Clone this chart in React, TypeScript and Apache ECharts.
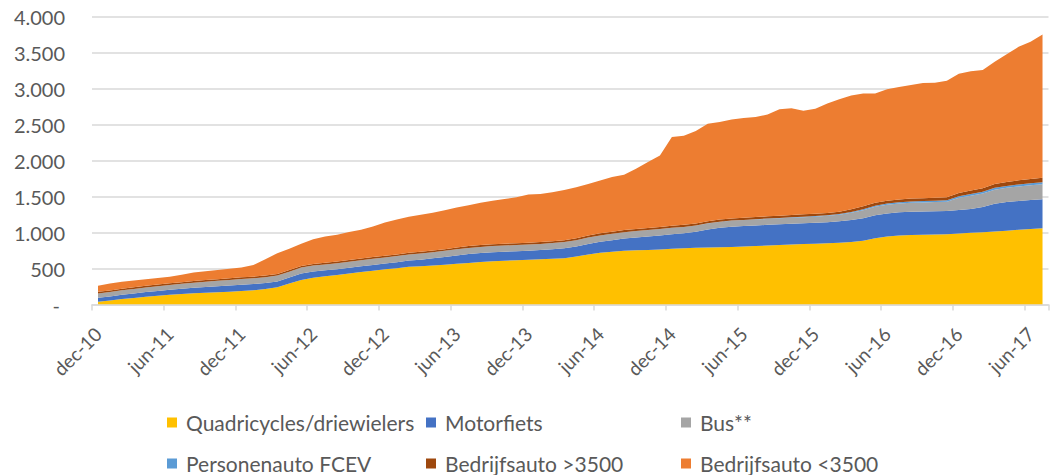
import React, { useEffect, useRef } from "react";
import * as echarts from "echarts";

const MONTHS = ["jan", "feb", "mrt", "apr", "mei", "jun", "jul", "aug", "sep", "okt", "nov", "dec"];
// 80 monthly categories: dec-10 .. jul-17
const categories: string[] = [];
for (let k = 0; k < 80; k++) {
  const m = (11 + k) % 12;
  const y = 10 + Math.floor((11 + k) / 12);
  categories.push(`${MONTHS[m]}-${y}`);
}

const quadricycles = [
  39, 55, 75, 92, 108, 122, 134, 145, 155, 163, 170, 176, 188, 198, 215, 239, 290, 342, 372, 392,
  410, 430, 452, 470, 488, 505, 525, 530, 542, 552, 565, 578, 590, 600, 608, 614, 620, 627, 635, 643,
  665, 695, 718, 732, 745, 752, 758, 765, 775, 782, 787, 791, 794, 800, 806, 812, 819, 826, 832, 839,
  845, 852, 859, 868, 886, 920, 945, 958, 965, 968, 972, 975, 985, 995, 1005, 1015, 1025, 1038, 1048, 1058,
];
const motorfiets = [
  55, 57, 60, 62, 65, 67, 70, 73, 76, 80, 84, 88, 88, 86, 84, 82, 84, 88, 86, 82,
  80, 80, 80, 80, 80, 82, 86, 92, 100, 108, 116, 122, 125, 126, 126, 126, 127, 129, 133, 138,
  142, 147, 153, 161, 170, 179, 187, 194, 200, 208, 225, 250, 272, 280, 283, 285, 287, 288, 289, 289,
  289, 292, 298, 305, 312, 318, 320, 322, 324, 324, 324, 325, 327, 332, 350, 385, 398, 400, 402, 403,
];
const bus = [
  60, 61, 62, 63, 64, 66, 68, 70, 72, 74, 76, 78, 79, 80, 80, 81, 82, 83, 83, 83,
  83, 83, 84, 84, 84, 85, 85, 85, 85, 85, 85, 85, 85, 85, 85, 85, 85, 85, 86, 86,
  87, 88, 89, 90, 90, 91, 91, 91, 90, 88, 85, 84, 83, 83, 83, 83, 83, 83, 84, 85,
  86, 87, 90, 100, 112, 118, 120, 122, 123, 125, 126, 128, 170, 185, 188, 195, 198, 202, 205, 208,
];
const fcev = [
  0, 0, 0, 0, 0, 0, 0, 0, 0, 0, 0, 0, 0, 0, 0, 0, 0, 0, 0, 0,
  0, 0, 0, 0, 0, 0, 0, 0, 0, 0, 0, 0, 0, 0, 0, 0, 0, 0, 0, 0,
  0, 0, 0, 0, 0, 0, 0, 0, 0, 0, 1, 2, 2, 3, 3, 4, 5, 5, 6, 7,
  8, 9, 10, 12, 14, 16, 17, 18, 19, 20, 20, 21, 22, 23, 24, 25, 26, 27, 28, 30,
];
const bedrijfGroot = [
  22, 22, 22, 22, 22, 22, 22, 22, 22, 22, 22, 23, 23, 23, 23, 23, 23, 23, 23, 23,
  23, 24, 24, 24, 24, 24, 24, 24, 24, 24, 24, 26, 26, 26, 26, 26, 26, 26, 26, 26,
  26, 28, 28, 28, 28, 28, 28, 28, 28, 28, 28, 30, 30, 30, 30, 30, 32, 32, 32, 32,
  32, 32, 32, 38, 40, 40, 40, 40, 40, 40, 40, 40, 45, 47, 49, 52, 55, 58, 60, 62,
];
const bedrijfKlein = [
  85, 95, 96, 96, 93, 91, 92, 103, 118, 123, 128, 133, 137, 162, 228, 287, 296, 309, 341, 365,
  374, 391, 398, 427, 464, 484, 498, 514, 524, 541, 558, 569, 586, 603, 620, 639, 670, 668, 680, 699,
  710, 717, 734, 759, 770, 835, 916, 992, 1232, 1239, 1284, 1353, 1354, 1374, 1385, 1389, 1414, 1479, 1482, 1438,
  1460, 1518, 1561, 1580, 1568, 1520, 1548, 1562, 1576, 1598, 1599, 1619, 1656, 1658, 1641, 1698, 1773, 1855, 1907, 1989,
];

const seriesNames = [
  "Quadricycles/driewielers",
  "Motorfiets",
  "Bus**",
  "Personenauto FCEV",
  "Bedrijfsauto >3500",
  "Bedrijfsauto <3500",
];
const seriesData = [quadricycles, motorfiets, bus, fcev, bedrijfGroot, bedrijfKlein];
const colors = ["#FFC000", "#4472C4", "#A5A5A5", "#5B9BD5", "#9E480E", "#ED7D31"];

const FONT = "Lato";
const TEXT = "#595959";

function fmt(v: number): string {
  if (v === 0) return "{z|-}";
  return String(v).replace(/\B(?=(\d{3})+(?!\d))/g, ".");
}

export default function App() {
  const ref = useRef<HTMLDivElement>(null);
  useEffect(() => {
    if (!ref.current) return;
    const chart = echarts.init(ref.current, undefined, { renderer: "svg" });
    const legendPos = [
      [167, 412],
      [426, 412],
      [681, 412],
      [167, 453],
      [426, 453],
      [681, 453],
    ];
    chart.setOption({
      animation: false,
      color: colors,
      grid: { left: 92, right: 4.5, top: 16.5, bottom: 170.5, containLabel: false },
      legend: seriesNames.map((n, i) => ({
        data: [n],
        left: legendPos[i][0],
        top: legendPos[i][1],
        itemWidth: 10,
        itemHeight: 10,
        icon: "rect",
        padding: 0,
        itemGap: 0,
        selectedMode: false,
        textStyle: {
          fontFamily: FONT,
          fontSize: 21,
          color: TEXT,
          lineHeight: 18,
          padding: [0, 0, 0, 4],
        },
      })),
      xAxis: {
        type: "category",
        data: categories,
        boundaryGap: true,
        axisLine: { show: true, lineStyle: { color: "#D9D9D9", width: 1.5 } },
        axisTick: {
          show: true,
          length: 6,
          interval: (i: number) => i % 6 === 0,
          lineStyle: { color: "#D9D9D9", width: 1.5 },
        },
        axisLabel: {
          interval: (i: number) => i % 6 === 0,
          rotate: 45,
          margin: 26,
          fontFamily: FONT,
          fontSize: 19,
          color: TEXT,
        },
        splitLine: { show: false },
      },
      yAxis: {
        type: "value",
        min: 0,
        max: 4000,
        interval: 500,
        axisLine: { show: false },
        axisTick: { show: false },
        splitLine: { show: true, lineStyle: { color: "#D9D9D9", width: 1.5 } },
        axisLabel: {
          formatter: fmt,
          margin: 27,
          fontFamily: FONT,
          fontSize: 20,
          color: TEXT,
          rich: { z: { padding: [0, 5, 0, 0], fontFamily: FONT, fontSize: 20, color: TEXT } },
        },
      },
      series: seriesNames.map((n, i) => ({
        name: n,
        type: "line",
        stack: "total",
        data: seriesData[i],
        showSymbol: false,
        symbol: "none",
        lineStyle: { width: 0 },
        areaStyle: { color: colors[i], opacity: 1 },
        itemStyle: { color: colors[i] },
      })),
    });
    return () => chart.dispose();
  }, []);
  return (
    <div
      ref={ref}
      style={{ position: "fixed", left: 0, top: 0, width: 1053, height: 475, background: "#fff" }}
    />
  );
}
